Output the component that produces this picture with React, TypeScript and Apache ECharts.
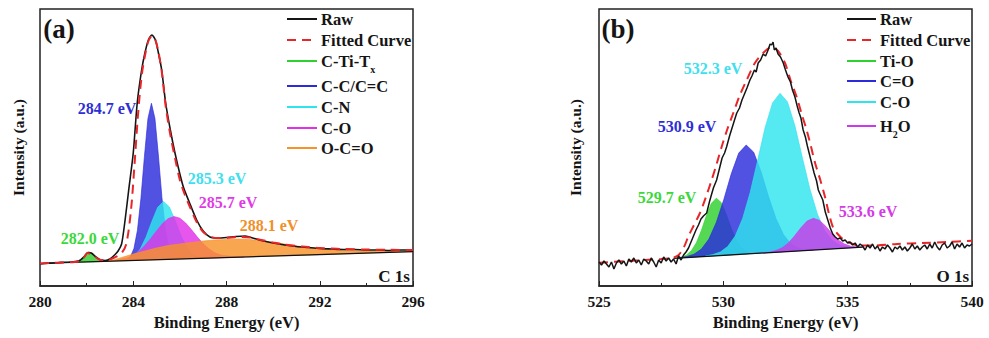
import React, { useEffect, useRef } from 'react';
import * as echarts from 'echarts';

type P = [number, number];

// ---------- Panel (a): C 1s ----------
const xTicksA = { min: 280, max: 296, interval: 4 };
const rawA: P[] = [
  [280.0, 22], [280.3, 22.8], [280.6, 23], [280.9, 23.6], [281.2, 23.8], [281.5, 24.5], [281.7, 25.5],
  [281.9, 29.5], [282.05, 33.5], [282.2, 33], [282.4, 29], [282.6, 26], [282.8, 25.5], [283.0, 27],
  [283.2, 31], [283.35, 35], [283.5, 42], [283.65, 66], [283.8, 95], [284.0, 133], [284.17, 183],
  [284.36, 216], [284.5, 233], [284.65, 246], [284.8, 251], [284.95, 246], [285.08, 233], [285.22, 216],
  [285.39, 183], [285.6, 155], [285.79, 133], [286.0, 112], [286.15, 99], [286.4, 84], [286.72, 66],
  [287.0, 55], [287.29, 49], [287.6, 48], [288.0, 48.5], [288.4, 49.5], [288.8, 50], [289.2, 47.5],
  [289.6, 45], [290.0, 43], [290.5, 41], [291.0, 39.5], [291.5, 38.5], [292.0, 37.5], [292.5, 37],
  [293.0, 36.5], [293.5, 36.5], [294.0, 36], [294.5, 36], [295.0, 35.5], [295.5, 36], [296.0, 36],
];
const fitA: P[] = [
  [280.0, 22.5], [280.5, 23], [281.0, 23.5], [281.5, 24], [281.8, 26], [282.05, 33], [282.3, 30],
  [282.6, 26], [282.9, 26], [283.2, 28.5], [283.5, 33], [283.7, 42], [283.9, 75], [284.05, 120],
  [284.2, 170], [284.36, 210], [284.5, 230], [284.65, 245], [284.8, 250], [284.95, 246], [285.08, 234],
  [285.22, 215], [285.39, 180], [285.6, 150], [285.8, 127], [286.0, 106], [286.2, 92], [286.45, 78],
  [286.72, 64], [287.0, 54], [287.3, 49.5], [287.6, 48], [288.0, 48], [288.5, 49], [289.0, 48.5],
  [289.5, 46], [290.0, 43.5], [290.5, 41.5], [291.0, 40], [291.5, 39], [292.0, 38], [292.5, 37.5],
  [293.0, 37], [294.0, 36.5], [295.0, 36.2], [296.0, 36],
];
const baseA: P[] = [[280, 22.7], [296, 34.3]];
const cTiTxA: P[] = [
  [281.5, 23.8], [281.65, 24.5], [281.8, 26.9], [281.95, 31.4], [282.1, 34.2], [282.25, 31.6],
  [282.4, 27.3], [282.55, 25.1], [282.7, 24.6],
];
const ccA: P[] = [
  [283.73, 26.4], [283.88, 29.3], [284.03, 37.4], [284.18, 55.6], [284.33, 87.7], [284.48, 129.6],
  [284.63, 167.3], [284.78, 182.7], [284.93, 167.5], [285.08, 130.0], [285.23, 88.3], [285.38, 56.4],
  [285.53, 38.4], [285.68, 30.5], [285.83, 27.8],
];
const cnA: P[] = [
  [283.55, 25.7], [283.8, 26.9], [284.05, 30.0], [284.3, 36.9], [284.55, 48.9], [284.8, 64.6],
  [285.05, 78.7], [285.3, 84.5], [285.55, 79.0], [285.8, 65.3], [286.05, 50.0], [286.3, 38.4],
  [286.55, 31.9], [286.8, 29.0], [287.05, 28.2],
];
const coA: P[] = [
  [283.25, 25.7], [283.75, 28.1], [284.0, 30.7], [284.25, 34.8], [284.5, 40.4], [284.75, 47.5],
  [285.0, 55.1], [285.25, 62.2], [285.5, 67.4], [285.75, 69.4], [286.0, 67.8], [286.25, 62.9],
  [286.5, 56.2], [286.75, 48.9], [287.0, 42.2], [287.25, 37.0], [287.5, 33.2], [287.75, 31.0],
  [288.25, 29.3], [288.75, 29.0],
];
const ocoA: P[] = [
  [282.8, 24.7], [283.0, 25], [283.5, 28.5], [284.0, 32], [284.5, 35], [285.0, 38], [285.5, 40.5],
  [286.0, 42], [286.5, 43.5], [287.0, 45], [287.5, 46], [288.0, 46.5], [288.5, 47], [289.0, 46.5],
  [289.5, 45], [290.0, 43.5], [290.5, 42], [291.0, 40], [291.5, 38.5], [292.0, 37], [292.5, 36],
  [293.0, 35.5], [294.0, 35], [295.0, 34.8], [296.0, 34.4],
];

// ---------- Panel (b): O 1s ----------
const xTicksB = { min: 525, max: 540, interval: 5 };
const rawB: P[] = [
  [525.0, 24], [525.1, 21], [525.2, 25], [525.3, 22], [525.4, 19], [525.5, 24], [525.6, 17], [525.7, 23],
  [525.8, 26], [525.9, 22], [526.0, 25], [526.1, 20], [526.2, 27], [526.3, 24], [526.4, 28], [526.5, 23],
  [526.6, 26], [526.7, 21], [526.8, 27], [526.9, 25], [527.0, 22], [527.1, 28], [527.2, 24], [527.3, 19],
  [527.4, 26], [527.5, 23], [527.6, 29], [527.7, 25], [527.8, 28], [527.9, 24], [528.0, 27], [528.1, 22],
  [528.2, 30], [528.3, 26], [528.4, 31], [528.5, 34], [528.6, 38], [528.7, 44], [528.8, 50], [528.9, 56],
  [529.0, 61], [529.1, 67], [529.2, 70], [529.33, 73], [529.45, 85], [529.6, 98], [529.73, 106],
  [529.85, 118], [529.95, 128], [530.05, 133], [530.13, 139], [530.25, 150], [530.35, 158], [530.45, 166],
  [530.54, 173], [530.65, 178], [530.75, 186], [530.85, 192], [530.95, 198], [531.07, 206], [531.15, 210],
  [531.25, 216], [531.32, 214], [531.4, 223], [531.5, 226], [531.6, 232], [531.7, 230], [531.8, 236],
  [531.88, 242], [531.94, 241], [532.0, 244], [532.05, 236], [532.12, 238], [532.2, 232], [532.3, 229],
  [532.41, 223], [532.5, 216], [532.6, 209], [532.7, 204], [532.78, 196], [532.88, 189], [532.97, 180],
  [533.05, 173], [533.12, 168], [533.21, 156], [533.3, 149], [533.38, 140], [533.45, 133], [533.55, 123],
  [533.65, 113], [533.75, 105], [533.82, 96], [533.89, 92], [534.0, 86], [534.1, 74], [534.2, 66],
  [534.3, 58], [534.4, 52], [534.5, 49], [534.6, 47], [534.7, 48], [534.8, 45], [534.9, 46], [535.0, 43],
  [535.1, 44], [535.2, 41], [535.3, 43], [535.4, 39], [535.5, 42], [535.6, 40], [535.7, 36], [535.8, 41],
  [535.9, 38], [536.0, 42], [536.1, 37], [536.2, 40], [536.3, 35], [536.4, 39], [536.5, 37], [536.6, 41],
  [536.7, 38], [536.8, 34], [536.9, 39], [537.0, 37], [537.1, 40], [537.2, 36], [537.3, 39], [537.4, 35],
  [537.5, 38], [537.6, 42], [537.7, 37], [537.8, 40], [537.9, 36], [538.0, 39], [538.1, 41], [538.2, 37],
  [538.3, 42], [538.4, 38], [538.5, 44], [538.6, 39], [538.7, 36], [538.8, 41], [538.9, 43], [539.0, 38],
  [539.1, 40], [539.2, 44], [539.3, 37], [539.4, 42], [539.5, 39], [539.6, 43], [539.7, 38], [539.8, 41],
  [539.9, 40], [540.0, 42],
];
const fitB: P[] = [
  [525, 23.3], [526, 24.8], [527, 26.2], [527.5, 27], [528.0, 28.5], [528.2, 31], [528.4, 38],
  [528.6, 50], [528.8, 60], [529.06, 73], [529.3, 89], [529.53, 106], [529.73, 122], [529.93, 139],
  [530.15, 156], [530.4, 173], [530.65, 190], [530.94, 206], [531.27, 223], [531.6, 233], [531.94, 239],
  [532.2, 235], [532.48, 223], [532.7, 206], [532.95, 189], [533.15, 172], [533.35, 156], [533.52, 140],
  [533.69, 123], [533.9, 106], [534.09, 89], [534.25, 72], [534.42, 58], [534.6, 52], [534.8, 47],
  [535.1, 43], [535.5, 40.5], [536.0, 40.5], [537.0, 42], [538.0, 43], [539.0, 44], [540.0, 45.3],
];
const baseB: P[] = [[528.0, 27.7], [535.6, 38.9]];
const tiOB: P[] = [
  [528.12, 28.1], [528.32, 29.0], [528.52, 31.0], [528.72, 35.4], [528.92, 43.4], [529.12, 55.7],
  [529.32, 70.4], [529.52, 82.7], [529.72, 87.8], [529.92, 83.3], [530.12, 71.6], [530.32, 57.4],
  [530.52, 45.7], [530.72, 38.3], [530.92, 34.5], [531.12, 33.1], [531.32, 32.8],
];
const cdoB: P[] = [
  [528.22, 28.3], [528.52, 29.4], [528.82, 31.8], [529.12, 36.9], [529.42, 46.9], [529.72, 63.7],
  [530.02, 86.6], [530.32, 112.2], [530.62, 132.9], [530.92, 141.0], [531.22, 133.8], [531.52, 114.0],
  [531.82, 89.2], [532.12, 67.2], [532.42, 51.3], [532.72, 42.1], [533.02, 37.9], [533.32, 36.4],
  [533.62, 36.2],
];
const coB: P[] = [
  [529.28, 30.0], [529.58, 31.4], [529.88, 34.0], [530.18, 39.6], [530.48, 50.0], [530.78, 67.7],
  [531.08, 93.6], [531.38, 125.5], [531.68, 158.3], [531.98, 183.1], [532.28, 192.7], [532.58, 184.0],
  [532.88, 160.0], [533.18, 128.1], [533.48, 97.1], [533.78, 72.1], [534.08, 55.2], [534.38, 45.7],
  [534.68, 41.0], [534.98, 39.2], [535.28, 38.8],
];
const h2oB: P[] = [
  [531.62, 33.2], [531.87, 34.0], [532.12, 35.5], [532.37, 38.3], [532.62, 43.1], [532.87, 50.2],
  [533.12, 58.2], [533.37, 64.9], [533.62, 67.7], [533.87, 65.6], [534.12, 59.7], [534.37, 52.3],
  [534.62, 46.0], [534.87, 42.0], [535.12, 39.8], [535.37, 39.1], [535.62, 39.1],
];

const legendA = ['Raw', 'Fitted Curve', 'C-Ti-Tx', 'C-C/C=C', 'C-N', 'C-O', 'O-C=O'];
const legendB = ['Raw', 'Fitted Curve', 'Ti-O', 'C=O', 'C-O', 'H2O'];
const peakLabelsA = ['284.7 eV', '285.3 eV', '285.7 eV', '288.1 eV', '282.0 eV'];
const peakLabelsB = ['532.3 eV', '530.9 eV', '529.7 eV', '533.6 eV'];

const FONT = 'Liberation Serif';
const INK = '#151515';
const RED = '#e8262a';
const GREEN = '#2fd12f';
const BLUE = '#2b2bdc';
const CYAN = '#30e4ee';
const MAGENTA = '#e030e8';
const ORANGE = '#f7922a';
const PURPLE = '#c93be8';
const LEG_SIZE = 16.5;

function fillSeries(pts: P[], color: string, ax: number, opacity = 0.82) {
  return {
    type: 'custom',
    xAxisIndex: ax,
    yAxisIndex: ax,
    data: pts,
    encode: { x: 0, y: 1 },
    silent: true,
    z: 2,
    renderItem: (params: any, api: any) => {
      if (params.dataIndex !== 0) return null;
      const points = pts.map((p) => api.coord(p));
      return {
        type: 'polygon',
        shape: { points },
        style: { fill: color, opacity, stroke: color, lineWidth: 0.8 },
      };
    },
  };
}

function lineSeries(pts: P[], color: string, ax: number, width: number, extra: any = {}) {
  const { smooth, ...ls } = extra;
  return {
    type: 'line',
    xAxisIndex: ax,
    yAxisIndex: ax,
    data: pts,
    showSymbol: false,
    symbol: 'none',
    z: 5,
    smooth: smooth ?? false,
    lineStyle: { color, width, ...ls },
  };
}

function xAxisOf(grid: number, t: { min: number; max: number; interval: number }) {
  return {
    gridIndex: grid,
    type: 'value',
    min: t.min,
    max: t.max,
    interval: t.interval,
    name: 'Binding Energy (eV)',
    nameLocation: 'middle',
    nameGap: 27,
    nameTextStyle: { fontFamily: FONT, fontWeight: 'bold', fontSize: 16.5, color: INK },
    axisLine: { lineStyle: { color: '#222', width: 1.5 } },
    axisTick: { inside: true, length: 5, lineStyle: { color: '#222', width: 1 } },
    minorTick: { show: true, splitNumber: 2, length: 3, lineStyle: { color: '#222', width: 1 } },
    axisLabel: { fontFamily: FONT, fontWeight: 'bold', fontSize: 15.5, color: INK, margin: 7 },
    splitLine: { show: false },
  };
}

function yAxisOf(grid: number, gap: number) {
  return {
    gridIndex: grid,
    type: 'value',
    min: 0,
    max: 277,
    name: 'Intensity (a.u.)',
    nameLocation: 'middle',
    nameGap: gap,
    nameRotate: 90,
    nameTextStyle: { fontFamily: FONT, fontWeight: 'bold', fontSize: 15.5, color: INK },
    axisLine: { show: false },
    axisTick: { show: false },
    axisLabel: { show: false },
    splitLine: { show: false },
  };
}

function txt(x: number, y: number, text: string, color: string, size = 16, align = 'center') {
  return {
    type: 'text',
    x,
    y,
    z: 20,
    style: {
      text,
      fill: color,
      font: `bold ${size}px ${FONT}`,
      align,
      verticalAlign: 'middle',
    },
  };
}

function legendItem(x1: number, x2: number, tx: number, y: number, label: string, color: string, dashed = false) {
  const els: any[] = [
    {
      type: 'line',
      z: 20,
      shape: { x1, y1: y, x2, y2: y },
      style: dashed ? { stroke: color, lineWidth: 2, lineDash: [9, 6] } : { stroke: color, lineWidth: 2 },
    },
  ];
  let rich: any = null;
  let text = label;
  if (label === 'C-Ti-Tx') {
    text = '{n|C-Ti-T}{s|x}';
  } else if (label === 'H2O') {
    text = '{n|H}{s|2}{n|O}';
  }
  if (text !== label) {
    rich = {
      n: { font: `bold ${LEG_SIZE}px ${FONT}`, fill: INK, lineHeight: 26, verticalAlign: 'middle' },
      s: { font: `bold 10px ${FONT}`, fill: INK, lineHeight: 10, verticalAlign: 'bottom' },
    };
  }
  els.push({
    type: 'text',
    x: tx,
    y,
    z: 20,
    style: {
      text,
      fill: INK,
      font: `bold ${LEG_SIZE}px ${FONT}`,
      align: 'left',
      verticalAlign: 'middle',
      ...(rich ? { rich } : {}),
    },
  });
  return els;
}

export default function App() {
  const ref = useRef<HTMLDivElement>(null);
  useEffect(() => {
    if (!ref.current) return;
    const chart = echarts.init(ref.current, undefined, { renderer: 'svg' });
    const colorsA = [INK, RED, GREEN, BLUE, CYAN, MAGENTA, ORANGE];
    const rowsA = [19, 40, 61, 86, 107, 128, 148];
    const colorsB = [INK, RED, GREEN, BLUE, CYAN, PURPLE];
    const rowsB = [19, 40, 61, 81, 102, 126];
    const graphic: any[] = [
      txt(59, 29, '(a)', INK, 27),
      txt(618, 29, '(b)', INK, 27),
      txt(107, 108, peakLabelsA[0], '#2e2ed6'),
      txt(217, 178, peakLabelsA[1], '#3de0ef'),
      txt(228, 202, peakLabelsA[2], '#e03ae6'),
      txt(269, 225, peakLabelsA[3], '#f0902a'),
      txt(90, 238, peakLabelsA[4], '#3bd83b'),
      txt(713, 68, peakLabelsB[0], '#3de0ef'),
      txt(687, 126, peakLabelsB[1], '#2e2ed6'),
      txt(667, 197, peakLabelsB[2], '#3bd83b'),
      txt(868, 211, peakLabelsB[3], '#d43ae6'),
      txt(410, 276, 'C 1s', INK, 17, 'right'),
      txt(969, 276, 'O 1s', INK, 17, 'right'),
    ];
    legendA.forEach((l, i) => graphic.push(...legendItem(287, 317, 321, rowsA[i], l, colorsA[i], i === 1)));
    legendB.forEach((l, i) => graphic.push(...legendItem(847, 876, 880, rowsB[i], l, colorsB[i], i === 1)));

    const option: any = {
      animation: false,
      backgroundColor: '#fff',
      textStyle: { fontFamily: FONT },
      grid: [
        { left: 40, top: 9, width: 373, height: 277, show: true, borderColor: '#222', borderWidth: 1.5, backgroundColor: 'transparent' },
        { left: 599, top: 9, width: 373, height: 277, show: true, borderColor: '#222', borderWidth: 1.5, backgroundColor: 'transparent' },
      ],
      xAxis: [xAxisOf(0, xTicksA), xAxisOf(1, xTicksB)],
      yAxis: [yAxisOf(0, 14), yAxisOf(1, 16)],
      series: [
        fillSeries(cTiTxA, GREEN, 0),
        fillSeries(ccA, BLUE, 0),
        fillSeries(cnA, CYAN, 0),
        fillSeries(coA, MAGENTA, 0),
        fillSeries(ocoA, ORANGE, 0),
        lineSeries(baseA, '#111', 0, 1.3),
        lineSeries(rawA, INK, 0, 1.6, { smooth: 0.25 }),
        lineSeries(fitA, RED, 0, 2, { type: [9, 6], smooth: 0.3 }),
        fillSeries(tiOB, GREEN, 1),
        fillSeries(cdoB, BLUE, 1),
        fillSeries(coB, CYAN, 1),
        fillSeries(h2oB, PURPLE, 1),
        lineSeries(baseB, '#111', 1, 1.3),
        lineSeries(fitB, RED, 1, 2, { type: [9, 6], smooth: 0.3 }),
        lineSeries(rawB, INK, 1, 1.5),
      ],
      graphic,
    };
    chart.setOption(option);
    return () => chart.dispose();
  }, []);
  return (
    <div
      ref={ref}
      style={{ position: 'absolute', left: 0, top: 0, width: 989, height: 338, background: '#fff' }}
    />
  );
}
